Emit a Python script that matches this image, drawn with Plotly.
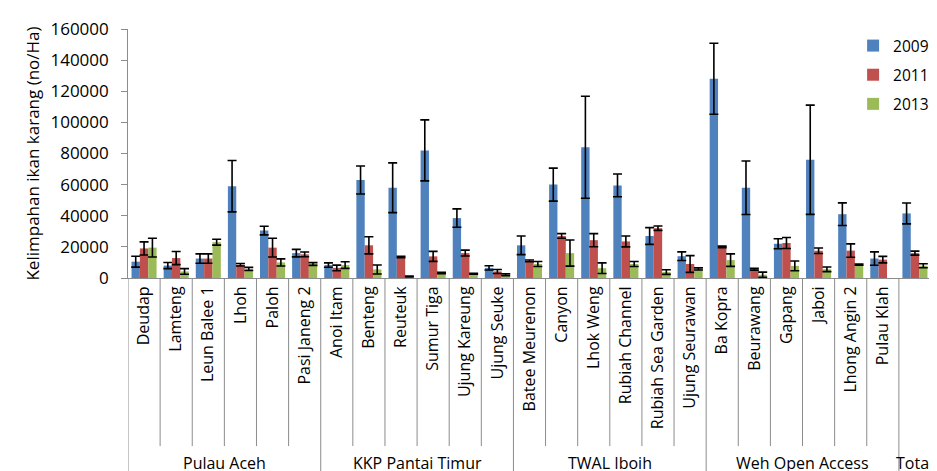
import plotly.graph_objects as go

categories = ["Deudap", "Lamteng", "Leun Balee 1", "Lhoh", "Paloh", "Pasi Janeng 2",
              "Anoi Itam", "Benteng", "Reuteuk", "Sumur Tiga", "Ujung Kareung", "Ujung Seuke",
              "Batee Meurenon", "Canyon", "Lhok Weng", "Rubiah Channel", "Rubiah Sea Garden", "Ujung Seurawan",
              "Ba Kopra", "Beurawang", "Gapang", "Jaboi", "Lhong Angin 2", "Pulau Klah",
              "Total"]
tick_labels = categories[:-1] + [""]
groups = ["Pulau Aceh", "KKP Pantai Timur", "TWAL Iboih", "Weh Open Access", "Total"]
group_sizes = [6, 6, 6, 6, 1]
years = ["2009", "2011", "2013"]

v2009 = [10500, 8000, 12500, 59000, 30500, 16000, 8300, 63000, 58000, 82000, 38500, 6500,
         21000, 60000, 84000, 59500, 27000, 14000, 128000, 58000, 22000, 76000, 41000, 12500, 41500]
e2009 = [3500, 2000, 3000, 16500, 2800, 2400, 1400, 9000, 16000, 19600, 5900, 1400,
         6000, 10600, 32800, 7300, 5400, 2800, 22800, 17200, 3200, 35100, 7300, 4300, 6700]
v2011 = [19000, 12800, 12500, 8500, 19500, 15200, 6500, 21000, 13500, 13900, 16000, 4200,
         11000, 27000, 24300, 23500, 32000, 9000, 20000, 5600, 22500, 17500, 17600, 11800, 16000]
e2011 = [4200, 4200, 3000, 800, 6000, 1500, 1800, 5500, 400, 3200, 1900, 1300,
         600, 1500, 4200, 3500, 1400, 5400, 500, 600, 3500, 1800, 4300, 2100, 1300]
v2013 = [19500, 4200, 23000, 5800, 10000, 9000, 8300, 5500, 1000, 3200, 2800, 2100,
         9000, 16000, 6300, 9000, 3800, 5800, 11500, 2100, 7800, 5600, 8600, None, 7900]
e2013 = [6000, 1800, 1900, 1000, 2300, 900, 2100, 2900, 300, 500, 300, 600,
         1600, 8400, 3400, 1600, 1500, 700, 4000, 1700, 3100, 1500, 400, None, 1300]

colors = ["#4F81BD", "#C0504D", "#9BBB59"]
FONT = "Open Sans"

fig = go.Figure()
for name, vals, errs, col in zip(years, [v2009, v2011, v2013], [e2009, e2011, e2013], colors):
    fig.add_trace(go.Bar(
        x=categories, y=vals, name=name, marker=dict(color=col, line=dict(width=0)),
        legendgroup=name,
        error_y=dict(type="data", array=errs, color="black", thickness=1.6, width=4.5),
    ))

grey = "#8C8C8C"
shapes = []
n = len(categories)
boundaries = [0]
for s in group_sizes:
    boundaries.append(boundaries[-1] + s)
for i in range(n + 1):
    is_group = i in boundaries
    shapes.append(dict(type="line", xref="x", yref="paper",
                       x0=i - 0.5, x1=i - 0.5, y0=0, y1=(-0.82 if is_group else -0.675),
                       line=dict(color=grey, width=1)))

annotations = []
for g, a, b in zip(groups, boundaries[:-1], boundaries[1:]):
    annotations.append(dict(text=g, x=(a + b - 1) / 2, xref="x", y=-0.742, yref="paper",
                            showarrow=False, xanchor="center", yanchor="middle",
                            font=dict(family=FONT, size=16, color="black")))

fig.update_layout(
    width=937, height=471,
    margin=dict(l=120, r=14, t=21, b=201, autoexpand=False),
    paper_bgcolor="white", plot_bgcolor="white",
    barmode="group", bargap=0.22, bargroupgap=0,
    font=dict(family=FONT, size=14, color="black"),
    shapes=shapes, annotations=annotations,
    legend=dict(x=0.903, y=1.0, xanchor="left", yanchor="top", bgcolor="rgba(0,0,0,0)",
                tracegroupgap=6, itemwidth=30, font=dict(family=FONT, size=15.5, color="black")),
    xaxis=dict(type="category", categoryorder="array", categoryarray=categories,
               tickmode="array", tickvals=categories, ticktext=tick_labels,
               tickangle=-90, range=[-0.5, n - 0.5], automargin=False,
               showline=True, linecolor=grey, linewidth=1,
               ticks="outside", ticklen=1, tickcolor="rgba(0,0,0,0)",
               tickfont=dict(family=FONT, size=16, color="black"),
               showgrid=False, zeroline=False),
    yaxis=dict(range=[0, 160000], dtick=20000, tickformat="d", automargin=False,
               showline=True, linecolor=grey, linewidth=1,
               ticks="outside", ticklen=6, tickcolor=grey, ticksuffix="\u00a0\u00a0",
               tickfont=dict(family=FONT, size=17, color="black"),
               showgrid=False, zeroline=False,
               title=dict(text="Kelimpahan ikan karang (no/Ha)", standoff=6,
                          font=dict(family=FONT, size=17, color="black"))),
)

fig.write_html("out.html")
